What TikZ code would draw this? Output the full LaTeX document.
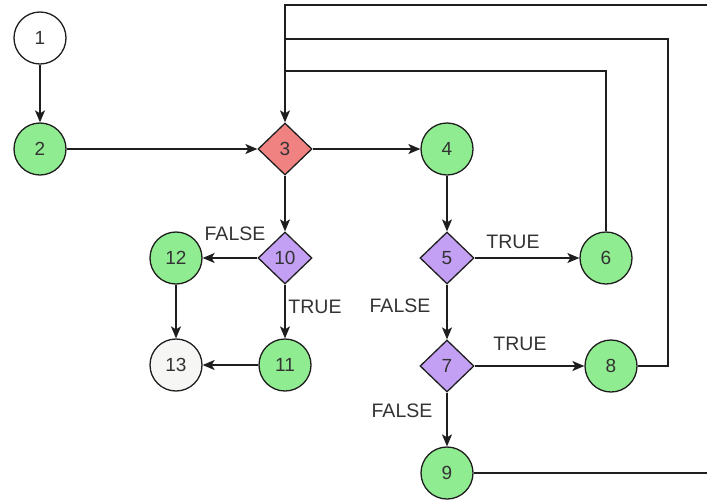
\documentclass[tikz,border=0pt]{standalone}
\usepackage{fontspec}
\setmainfont{Liberation Sans}
\usetikzlibrary{shapes.geometric,arrows.meta}
\definecolor{gfill}{RGB}{144,236,144}
\definecolor{rfill}{RGB}{240,130,130}
\definecolor{pfill}{RGB}{196,160,245}
\definecolor{lfill}{RGB}{246,246,244}
\definecolor{ink}{RGB}{30,30,30}
\tikzset{
  cnode/.style={circle,draw=ink,line width=1.3pt,minimum size=52pt,inner sep=0pt,font=\fontsize{19}{21}\selectfont,text=black!80},
  gnode/.style={cnode,fill=gfill},
  wnode/.style={cnode,fill=white},
  lnode/.style={cnode,fill=lfill},
  dnode/.style={diamond,draw=ink,line width=1.3pt,minimum width=54pt,minimum height=52pt,inner sep=0pt,font=\fontsize{19}{21}\selectfont,text=black!80},
  rnode/.style={dnode,fill=rfill},
  pnode/.style={dnode,fill=pfill},
  edge/.style={draw=ink,line width=1.3pt,-{Stealth[length=12pt,width=10pt,inset=3pt]}},
  loop/.style={draw=ink,line width=1.3pt},
  lbl/.style={font=\fontsize{19.5}{21}\selectfont,text=black!80,inner sep=0pt}
}
\begin{document}
\begin{tikzpicture}[x=1pt,y=-1pt]
\useasboundingbox (0,0) rectangle (707,499);
\fill[white] (0,0) rectangle (707,499);
\node[wnode] (n1) at (40,38) {1};
\node[gnode] (n2) at (40,149) {2};
\node[rnode] (n3) at (285,149) {3};
\node[gnode] (n4) at (447,149) {4};
\node[pnode] (n10) at (285,258) {10};
\node[gnode] (n12) at (176,258) {12};
\node[pnode] (n5) at (447,258) {5};
\node[gnode] (n6) at (606,258) {6};
\node[lnode] (n13) at (176,365) {13};
\node[gnode] (n11) at (285,365) {11};
\node[pnode] (n7) at (447,366) {7};
\node[gnode] (n8) at (611,366) {8};
\node[gnode] (n9) at (447,473) {9};
\coordinate (c9r) at (708,473);
\coordinate (c9t) at (708,5);
\coordinate (c9l) at (285,5);
\coordinate (c8r) at (668,366);
\coordinate (c8t) at (668,39);
\coordinate (c8l) at (285,39);
\coordinate (c6t) at (606,71);
\coordinate (c6l) at (285,71);
\draw[edge] (n1) -- (n2);
\draw[edge] (n2) -- (n3);
\draw[edge] (n3) -- (n4);
\draw[edge] (n3) -- (n10);
\draw[edge] (n4) -- (n5);
\draw[edge] (n10) -- (n12);
\draw[edge] (n10) -- (n11);
\draw[edge] (n12) -- (n13);
\draw[edge] (n11) -- (n13);
\draw[edge] (n5) -- (n6);
\draw[edge] (n5) -- (n7);
\draw[edge] (n7) -- (n8);
\draw[edge] (n7) -- (n9);
\draw[loop] (n9) -- (c9r) -- (c9t) -- (c9l) -- (c8l);
\draw[loop] (n8) -- (c8r) -- (c8t) -- (c8l) -- (c6l);
\draw[edge] (n6) -- (c6t) -- (c6l) -- (n3);
\node[lbl] (f10) at (235,234) {FALSE};
\node[lbl] (t10) at (315,307) {TRUE};
\node[lbl] (t5) at (513,242) {TRUE};
\node[lbl] (f5) at (400,306) {FALSE};
\node[lbl] (t7) at (520,344) {TRUE};
\node[lbl] (f7) at (402,411) {FALSE};
\end{tikzpicture}
\end{document}
